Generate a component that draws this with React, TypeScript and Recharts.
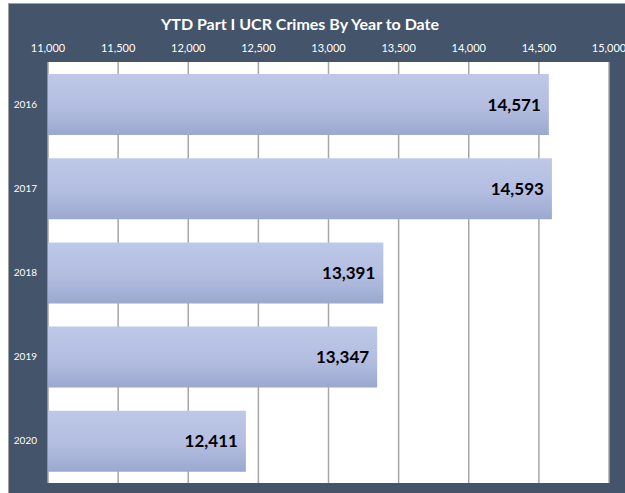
import React from 'react';
import { BarChart, Bar, XAxis, YAxis, CartesianGrid, LabelList } from 'recharts';

const years = ['2016', '2017', '2018', '2019', '2020'];
const crimes = [14571, 14593, 13391, 13347, 12411];
const xTicks = [11000, 11500, 12000, 12500, 13000, 13500, 14000, 14500, 15000];

const data = years.map((year, i) => ({ year, crimes: crimes[i] }));

const FRAME = '#44546a';
const FONT = 'Lato, "Open Sans", sans-serif';

const fmt = (v: number) => v.toLocaleString('en-US');

export default function App() {
  return (
    <div style={{ position: 'absolute', left: 0, top: 0, width: 625, height: 493, background: '#fff', overflow: 'hidden' }}>
      {/* dark chart frame, cut off at right/bottom like the screenshot */}
      <div
        style={{
          position: 'absolute',
          left: 8,
          top: 3,
          width: 630,
          height: 500,
          background: FRAME,
          borderLeft: '1px solid #a0a0a0',
          borderTop: '1px solid #a0a0a0',
        }}
      />
      <div
        style={{
          position: 'absolute',
          left: 0,
          width: 600,
          top: 14,
          textAlign: 'center',
          color: '#fff',
          fontFamily: FONT,
          fontWeight: 700,
          fontSize: 16,
          lineHeight: '20px',
        }}
      >
        YTD Part I UCR Crimes By Year to Date
      </div>
      <div style={{ position: 'absolute', left: 9, top: 3 }}>
        <BarChart
          width={616}
          height={490}
          data={data}
          layout="vertical"
          margin={{ top: 29, right: 16, bottom: 10, left: 0 }}
          style={{ fontFamily: FONT }}
        >
          <defs>
            <linearGradient id="barFill" x1="0" y1="0" x2="0" y2="1">
              <stop offset="0%" stopColor="#bec8e8" />
              <stop offset="55%" stopColor="#b2bde0" />
              <stop offset="100%" stopColor="#9ba8cf" />
            </linearGradient>
          </defs>
          <CartesianGrid horizontal={false} fill="#ffffff" stroke="#a6a6a6" strokeWidth={1.5} />
          <XAxis
            type="number"
            orientation="top"
            domain={[11000, 15000]}
            ticks={xTicks}
            tickFormatter={fmt}
            axisLine={false}
            tickLine={false}
            tickMargin={4}
            height={30}
            tick={{ fill: '#ffffff', fontSize: 11 }}
            interval={0}
          />
          <YAxis
            type="category"
            dataKey="year"
            width={39}
            axisLine={false}
            tickLine={false}
            tickMargin={5}
            tick={{ fill: '#ffffff', fontSize: 10 }}
          />
          <Bar dataKey="crimes" fill="url(#barFill)" barSize={61} isAnimationActive={false}>
            <LabelList
              dataKey="crimes"
              position="insideRight"
              offset={8}
              formatter={(v: any) => fmt(Number(v))}
              style={{ fill: '#000', fontSize: 17, fontWeight: 700, fontFamily: FONT }}
            />
          </Bar>
        </BarChart>
      </div>
    </div>
  );
}
